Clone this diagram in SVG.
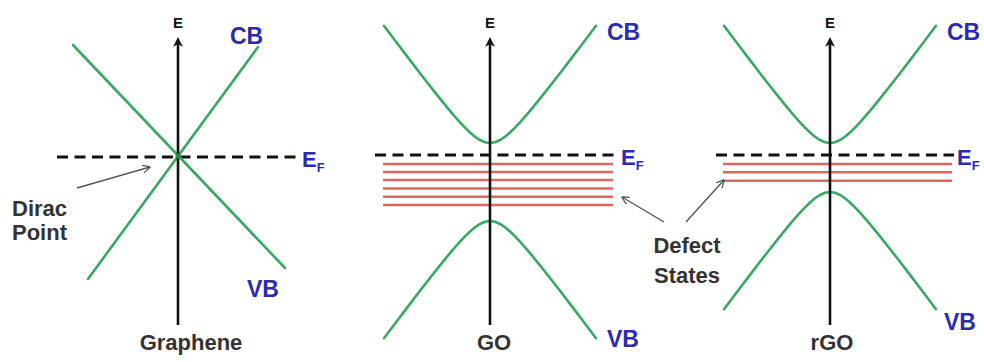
<svg xmlns="http://www.w3.org/2000/svg" width="984" height="362" viewBox="0 0 984 362">
<style>
text{font-family:"Liberation Sans",Arial,Helvetica,sans-serif;font-weight:bold}
.lbl{font-size:22px;fill:#333}
.band{font-size:23px;fill:#2b2bb0}
.ax{font-size:15px;fill:#111;text-anchor:middle}
.ef{font-size:22px;fill:#2b2bb0}
.sub{font-size:13px}
.axis{stroke:#111;stroke-width:2.6;fill:none}
.green{stroke:#38a865;stroke-width:2.6;fill:none;stroke-linejoin:round;stroke-linecap:round}
.fermi{stroke:#111;stroke-width:3;stroke-dasharray:11 6.5;fill:none}
.defect{stroke:#e06565;stroke-width:2.4;fill:none}
.ptr{stroke:#555;stroke-width:1.4;fill:none}
</style>
<defs>
<marker id="axHead" viewBox="0 0 10 10" refX="4" refY="5" markerWidth="10" markerHeight="10" markerUnits="userSpaceOnUse" orient="auto">
<path d="M0,0 L10,5 L0,10 L3,5 z" fill="#111"/>
</marker>
<marker id="ptrHead" viewBox="0 0 8 8" refX="7.5" refY="4" markerWidth="8" markerHeight="8" markerUnits="userSpaceOnUse" orient="auto">
<path d="M0,0 L8,4 L0,8" fill="none" stroke="#555" stroke-width="1.3"/>
</marker>
<path id="hyp" d="M-106,-117.25 L-100,-109.27 L-90,-96.02 L-80,-82.86 L-70,-69.81 L-60,-56.94 L-50,-44.32 L-40,-32.12 L-35,-26.27 L-30,-20.64 L-25,-15.34 L-20,-10.49 L-15,-6.28 L-10,-2.94 L-5,-0.76 L0,0 L5,-0.76 L10,-2.94 L15,-6.28 L20,-10.49 L25,-15.34 L30,-20.64 L35,-26.27 L40,-32.12 L50,-44.32 L60,-56.94 L70,-69.81 L80,-82.86 L90,-96.02 L100,-109.27 L106,-117.25"/>
</defs>
<rect width="984" height="362" fill="#fff"/>

<g id="graphene">
<line class="fermi" x1="57" y1="157" x2="300" y2="157"/>
<line class="green" x1="73" y1="45" x2="285" y2="268"/>
<line class="green" x1="258" y1="47" x2="88" y2="279"/>
<line class="axis" x1="178" y1="325" x2="178" y2="43" marker-end="url(#axHead)"/>
<circle cx="178" cy="156" r="2.5" fill="#2a8a4a"/>
<text class="ax" x="178" y="28">E</text>
<text class="band" x="230" y="44">CB</text>
<text class="band" x="247" y="297">VB</text>
<text class="ef" x="302" y="167">E<tspan class="sub" dy="5">F</tspan></text>
<text class="lbl" x="12" y="216">Dirac</text>
<text class="lbl" x="12" y="240">Point</text>
<text class="lbl" x="191" y="350" text-anchor="middle">Graphene</text>
</g>

<g id="go">
<line class="fermi" x1="375" y1="155" x2="617" y2="155"/>
<g class="defects">
<line class="defect" x1="383" y1="164" x2="613" y2="164"/>
<line class="defect" x1="383" y1="172" x2="613" y2="172"/>
<line class="defect" x1="383" y1="180" x2="613" y2="180"/>
<line class="defect" x1="383" y1="188.5" x2="613" y2="188.5"/>
<line class="defect" x1="383" y1="196.7" x2="613" y2="196.7"/>
<line class="defect" x1="383" y1="205" x2="613" y2="205"/>
</g>
<use href="#hyp" class="green" transform="translate(490,143)"/>
<use href="#hyp" class="green" transform="translate(490,221) scale(1,-1)"/>
<line class="axis" x1="490" y1="325" x2="490" y2="43" marker-end="url(#axHead)"/>
<text class="ax" x="490" y="28">E</text>
<text class="band" x="607" y="40">CB</text>
<text class="band" x="607" y="347">VB</text>
<text class="ef" x="621" y="165">E<tspan class="sub" dy="5">F</tspan></text>
<text class="lbl" x="494" y="350" text-anchor="middle">GO</text>
</g>

<g id="rgo">
<line class="fermi" x1="716" y1="155" x2="954" y2="155"/>
<g class="defects">
<line class="defect" x1="723" y1="164" x2="952" y2="164"/>
<line class="defect" x1="723" y1="172.3" x2="952" y2="172.3"/>
<line class="defect" x1="723" y1="180.7" x2="952" y2="180.7"/>
</g>
<use href="#hyp" class="green" transform="translate(830,143)"/>
<use href="#hyp" class="green" transform="translate(830,192) scale(1,-1)"/>
<line class="axis" x1="830" y1="325" x2="830" y2="43" marker-end="url(#axHead)"/>
<text class="ax" x="830" y="28">E</text>
<text class="band" x="947" y="40">CB</text>
<text class="band" x="944" y="330">VB</text>
<text class="ef" x="957" y="165">E<tspan class="sub" dy="5">F</tspan></text>
<text class="lbl" x="832" y="350" text-anchor="middle">rGO</text>
</g>

<g id="defect-label">
<text class="lbl" x="687" y="253" text-anchor="middle">Defect</text>
<text class="lbl" x="687" y="283" text-anchor="middle">States</text>
</g>

<g id="connectors">
<line class="ptr" x1="77" y1="188" x2="150" y2="167" marker-end="url(#ptrHead)"/>
<line class="ptr" x1="664" y1="222" x2="622" y2="197" marker-end="url(#ptrHead)"/>
<line class="ptr" x1="686" y1="222" x2="724" y2="180" marker-end="url(#ptrHead)"/>
</g>
</svg>
